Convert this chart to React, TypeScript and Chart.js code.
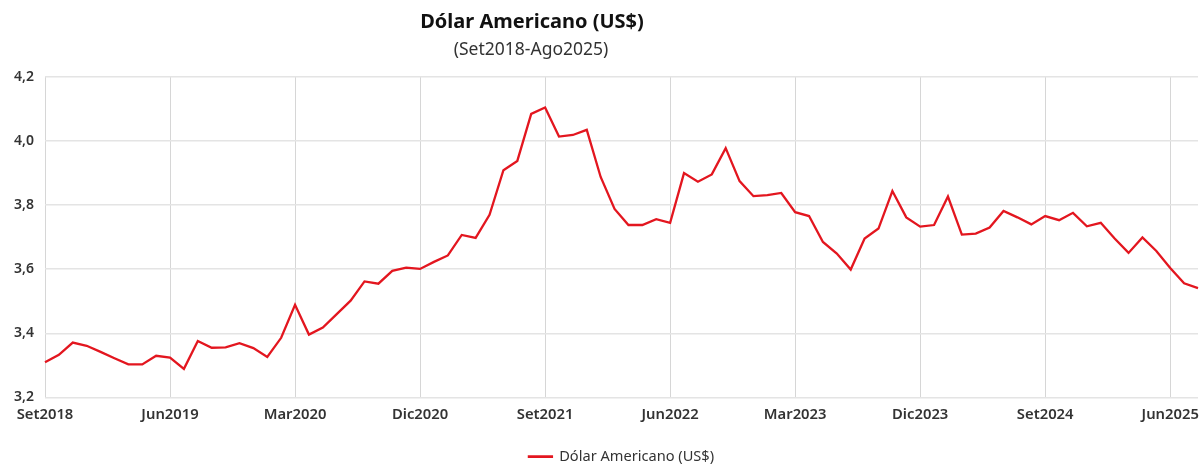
import { useEffect, useRef } from "react";
import { Chart, registerables } from "chart.js";

Chart.register(...registerables);

const MONTHS = ["Ene", "Feb", "Mar", "Abr", "May", "Jun", "Jul", "Ago", "Set", "Oct", "Nov", "Dic"];
const START_MONTH = 8; // Set
const START_YEAR = 2018;
const N_MONTHS = 84;
const categories: string[] = [];
for (let k = 0; k < N_MONTHS; k++) {
  const m = (START_MONTH + k) % 12;
  const y = START_YEAR + Math.floor((START_MONTH + k) / 12);
  categories.push(MONTHS[m] + y);
}

const usdValues = [
  3.31, 3.333, 3.371, 3.361, 3.342, 3.322, 3.303, 3.303, 3.33, 3.324,
  3.289, 3.376, 3.355, 3.356, 3.369, 3.354, 3.326, 3.386, 3.489, 3.396,
  3.418, 3.46, 3.502, 3.562, 3.555, 3.595, 3.605, 3.601, 3.623, 3.643,
  3.707, 3.698, 3.77, 3.909, 3.938, 4.085, 4.105, 4.014, 4.019, 4.035,
  3.888, 3.788, 3.738, 3.738, 3.756, 3.745, 3.9, 3.873, 3.896, 3.978,
  3.875, 3.828, 3.831, 3.838, 3.778, 3.766, 3.685, 3.649, 3.599, 3.696,
  3.727, 3.844, 3.762, 3.733, 3.738, 3.827, 3.708, 3.711, 3.73, 3.782,
  3.762, 3.74, 3.766, 3.753, 3.776, 3.734, 3.745, 3.696, 3.651, 3.699,
  3.657, 3.604, 3.556, 3.541,
];

const SERIES_NAME = "Dólar Americano (US$)";
const TITLE = "Dólar Americano (US$)";
const SUBTITLE = "(Set2018-Ago2025)";
const Y_MIN = 3.2;
const Y_MAX = 4.2;
const Y_STEP = 0.2;
const X_TICK_EVERY = 9;

const FONT = "'Noto Sans', sans-serif";

const titlePlugin = {
  id: "customTitle",
  afterLayout(chart: any) {
    const l = chart.legend;
    if (l) {
      l.top += 10;
      l.bottom += 10;
    }
  },
  afterDraw(chart: any) {
    const ctx = chart.ctx;
    ctx.save();
    ctx.textAlign = "center";
    ctx.textBaseline = "middle";
    ctx.fillStyle = "#111111";
    ctx.font = `bold 20px ${FONT}`;
    ctx.fillText(TITLE, 532, 22);
    ctx.fillStyle = "#333333";
    ctx.font = `17.5px ${FONT}`;
    ctx.fillText(SUBTITLE, 531, 50);
    ctx.restore();
  },
};

export default function App() {
  const ref = useRef<HTMLCanvasElement | null>(null);

  useEffect(() => {
    if (!ref.current) return;
    const chart = new Chart(ref.current, {
      type: "line",
      data: {
        labels: categories,
        datasets: [
          {
            label: SERIES_NAME,
            data: usdValues,
            borderColor: "#e3161f",
            backgroundColor: "#e3161f",
            borderWidth: 2.3,
            pointRadius: 0,
            tension: 0,
          },
        ],
      },
      options: {
        animation: false,
        responsive: false,
        events: [],
        layout: { padding: { top: 77, right: 5, left: 0, bottom: 0 } },
        plugins: {
          title: { display: false },
          tooltip: { enabled: false },
          legend: {
            display: true,
            position: "bottom",
            fullSize: false,
            labels: {
              boxWidth: 23,
              boxHeight: 0.5,
              padding: 6,
              color: "#333333",
              font: { family: FONT, size: 14.6 },
            },
          },
        },
        scales: {
          x: {
            type: "category",
            offset: false,
            border: { display: false },
            grid: { color: "#d6d6d6", lineWidth: 1, drawTicks: false },
            ticks: {
              autoSkip: false,
              maxRotation: 0,
              minRotation: 0,
              padding: 9,
              color: "#333333",
              font: { family: FONT, size: 14.8, weight: "600" },
              callback: (_v: any, i: number) => (i % X_TICK_EVERY === 0 ? categories[i] : null),
            },
            afterFit: (s: any) => {
              s.height = 36;
              s.paddingLeft = 0;
              s.paddingRight = 0;
            },
          },
          y: {
            min: Y_MIN,
            max: Y_MAX,
            border: { display: false },
            grid: { color: "#e4e4e4", lineWidth: 1.5, drawTicks: false },
            ticks: {
              stepSize: Y_STEP,
              padding: 11,
              color: "#333333",
              font: { family: FONT, size: 14, weight: "600" },
              callback: (v: any) => Number(v).toFixed(1).replace(".", ","),
            },
            afterFit: (s: any) => {
              s.width = 45;
            },
          },
        },
      },
      plugins: [titlePlugin],
    });
    return () => chart.destroy();
  }, []);

  return (
    <div style={{ position: "absolute", left: 0, top: 0, width: 1203, height: 464, background: "#ffffff" }}>
      <canvas ref={ref} width={1203} height={464} />
    </div>
  );
}
